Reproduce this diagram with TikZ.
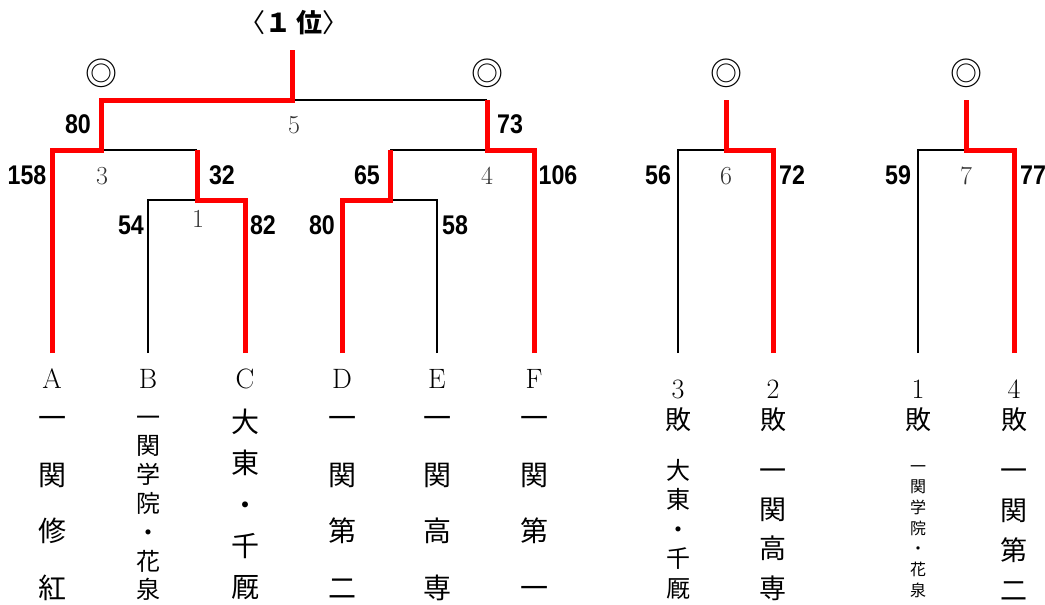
\documentclass[tikz,border=0pt]{standalone}
\usepackage{fontspec}
\newfontfamily\jpfont{Noto Sans CJK JP}
\newfontfamily\scorefont{Liberation Sans}[FakeStretch=0.86]

\begin{document}
\begin{tikzpicture}[x=1pt,y=-1pt,
    lose/.style={line width=2.8pt, black},
    win/.style={line width=5pt, red},
    score/.style={font=\scorefont\bfseries\fontsize{27}{27}\selectfont, inner sep=0pt},
    mnum/.style={font=\fontsize{26}{26}\selectfont, text=black!80, inner sep=0pt},
    team/.style={font=\fontsize{28}{28}\selectfont, inner sep=0pt},
    circmark/.style={font=\jpfont\fontsize{32}{32}\selectfont, inner sep=0pt},
    jp/.style={font=\jpfont\fontsize{#1}{#1}\selectfont, inner sep=0pt,
        anchor=base, yshift={-0.38*#1pt}}]
    \useasboundingbox (0,0) rectangle (1045,605);

    % Title
    \node[font=\jpfont\fontsize{26}{26}\selectfont, inner sep=0pt] (title) at (294,23) {〈{\bfseries １ 位}〉};

    % Leaves
    \coordinate (A) at (52,353);
    \coordinate (B) at (148,353);
    \coordinate (C) at (245,353);
    \coordinate (D) at (342,353);
    \coordinate (E) at (437,353);
    \coordinate (F) at (534,353);
    \coordinate (G) at (678,353);
    \coordinate (H) at (773,353);
    \coordinate (I) at (918,353);
    \coordinate (J) at (1014,353);

    % Junctions
    \coordinate (j1) at (197,200);
    \coordinate (j2) at (390,200);
    \coordinate (j3) at (101,150);
    \coordinate (j4) at (487,150);
    \coordinate (j5) at (292,100);
    \coordinate (j6) at (726,150);
    \coordinate (j7) at (966,150);
    \coordinate (w5) at (292,50);
    \coordinate (w6) at (726,100);
    \coordinate (w7) at (966,100);

    % Losing lines
    \draw[lose] (B) |- (j1);
    \draw[lose] (j3) -- (j1 |- j3);
    \draw[lose] (E) |- (j2);
    \draw[lose] (j2 |- j4) -- (j4);
    \draw[lose] (j5) -- (j4 |- j5);
    \draw[lose] (G) |- (j6);
    \draw[lose] (I) |- (j7);

    % Winning lines
    \draw[win] (C) |- (j1) -- (j1 |- j3);
    \draw[win] (A) |- (j3) -- (j3 |- j5) -- (j5) -- (w5);
    \draw[win] (D) |- (j2) -- (j2 |- j4);
    \draw[win] (F) |- (j4) -- (j4 |- j5);
    \draw[win] (H) |- (j6) -- (w6);
    \draw[win] (J) |- (j7) -- (w7);

    % Marks
    \node[circmark] (m5a) at (101,73) {◎};
    \node[circmark] (m5b) at (487,73) {◎};
    \node[circmark] (m6) at (726,73) {◎};
    \node[circmark] (m7) at (966,73) {◎};

    % Match numbers
    \node[mnum] (n1) at (198,219) {1};
    \node[mnum] (n3) at (102,176) {3};
    \node[mnum] (n4) at (487,176) {4};
    \node[mnum] (n5) at (294,125) {5};
    \node[mnum] (n6) at (726,176) {6};
    \node[mnum] (n7) at (966,176) {7};

    % Scores
    \node[score] (sA) at (27,175) {158};
    \node[score] (s3) at (78,124) {80};
    \node[score] (s1) at (222,175) {32};
    \node[score] (sB) at (131,225) {54};
    \node[score] (sC) at (263,225) {82};
    \node[score] (sD) at (322,225) {80};
    \node[score] (sE) at (455,225) {58};
    \node[score] (s2) at (367,175) {65};
    \node[score] (s4) at (510,124) {73};
    \node[score] (sF) at (558,175) {106};
    \node[score] (sG) at (658,175) {56};
    \node[score] (sH) at (792,175) {72};
    \node[score] (sI) at (898,175) {59};
    \node[score] (sJ) at (1033,175) {77};

    % Team letters
    \node[team] (lA) at (52,379) {A};
    \node[team] (lB) at (148,379) {B};
    \node[team] (lC) at (245,379) {C};
    \node[team] (lD) at (342,379) {D};
    \node[team] (lE) at (437,379) {E};
    \node[team] (lF) at (534,379) {F};
    \node[team] (lG) at (678,389) {3};
    \node[team] (lH) at (773,389) {2};
    \node[team] (lI) at (918,389) {1};
    \node[team] (lJ) at (1014,389) {4};
    \node[jp=26] (kG) at (678,420) {敗};
    \node[jp=26] (kH) at (773,420) {敗};
    \node[jp=26] (kI) at (918,420) {敗};
    \node[jp=26] (kJ) at (1014,420) {敗};

    % Team names
    \foreach \c [count=\i from 0] in {一,関,修,紅}
        \node[jp=28] (tA\i) at (52,418+56.5*\i) {\c};
    \foreach \c [count=\i from 0] in {一,関,学,院,・,花,泉}
        \node[jp=24] (tB\i) at (148,417+28.8*\i) {\c};
    \foreach \c [count=\i from 0] in {大,東,・,千,厩}
        \node[jp=28] (tC\i) at (245,422+41.3*\i) {\c};
    \foreach \c [count=\i from 0] in {一,関,第,二}
        \node[jp=28] (tD\i) at (342,418+56.5*\i) {\c};
    \foreach \c [count=\i from 0] in {一,関,高,専}
        \node[jp=28] (tE\i) at (437,418+56.5*\i) {\c};
    \foreach \c [count=\i from 0] in {一,関,第,一}
        \node[jp=28] (tF\i) at (534,418+56.5*\i) {\c};
    \foreach \c [count=\i from 0] in {大,東,・,千,厩}
        \node[jp=24] (tG\i) at (678,470+29.5*\i) {\c};
    \foreach \c [count=\i from 0] in {一,関,高,専}
        \node[jp=27] (tH\i) at (773,470+39.3*\i) {\c};
    \foreach \c [count=\i from 0] in {一,関,学,院,・,花,泉}
        \node[jp=16] (tI\i) at (918,466+20.7*\i) {\c};
    \foreach \c [count=\i from 0] in {一,関,第,二}
        \node[jp=27] (tJ\i) at (1014,470+40*\i) {\c};
\end{tikzpicture}
\end{document}
